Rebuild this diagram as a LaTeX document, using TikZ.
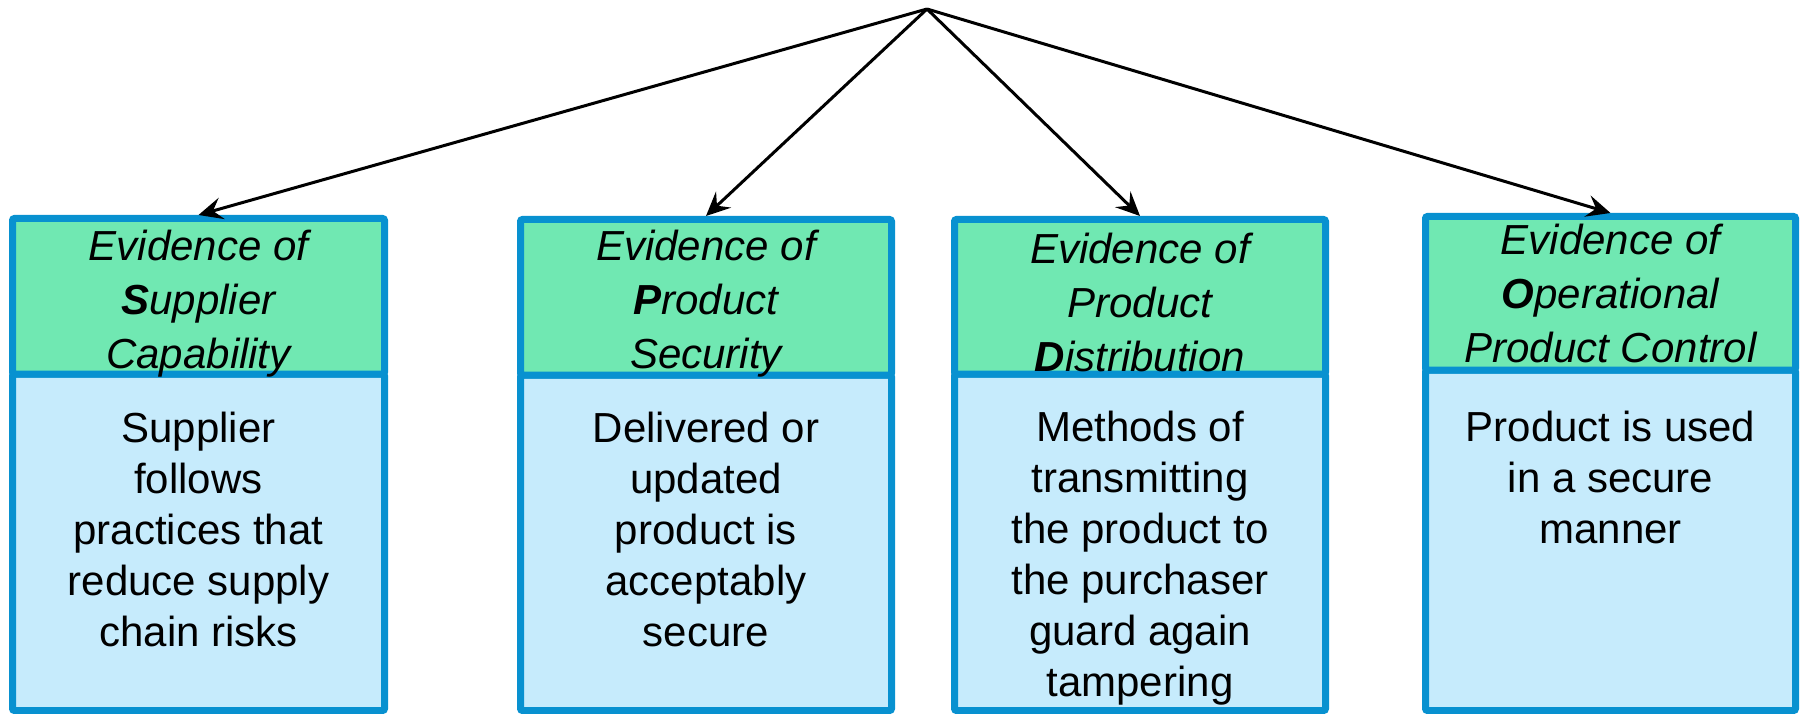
\documentclass[tikz,border=0pt]{standalone}
\usepackage{fontspec}
\setmainfont{Liberation Sans}
\usetikzlibrary{arrows.meta}
\definecolor{boxblue}{RGB}{8,145,208}
\definecolor{hdrgreen}{RGB}{112,232,178}
\definecolor{bodyblue}{RGB}{198,235,252}
\begin{document}
\begin{tikzpicture}[x=1pt,y=-1pt,
  hdrbox/.style={draw=boxblue, fill=hdrgreen, line width=7pt, rounded corners=2pt, inner sep=0pt},
  bodybox/.style={draw=boxblue, fill=bodyblue, line width=7pt, rounded corners=2pt, inner sep=0pt},
  hdrtext/.style={anchor=base, inner sep=0pt, align=center, font=\fontsize{42}{54}\selectfont\itshape},
  bodytext/.style={anchor=base, inner sep=0pt, align=center, font=\fontsize{42}{51}\selectfont},
  arr/.style={line width=3pt, -{Stealth[length=24pt,width=22pt,inset=9pt]}}]
\useasboundingbox (0,0) rectangle (1800,714);

% box 1
\node[bodybox, minimum width=372pt, minimum height=336.5pt] (b1) at (198.5,542.25) {};
\node[hdrbox, minimum width=372pt, minimum height=155.5pt] (h1) at (198.5,296.25) {};
% box 2
\node[bodybox, minimum width=371pt, minimum height=335.5pt] (b2) at (706,542.75) {};
\node[hdrbox, minimum width=371pt, minimum height=155.5pt] (h2) at (706,297.25) {};
% box 3
\node[bodybox, minimum width=371pt, minimum height=336.5pt] (b3) at (1140,542.25) {};
\node[hdrbox, minimum width=371pt, minimum height=154.5pt] (h3) at (1140,296.75) {};
% box 4
\node[bodybox, minimum width=370pt, minimum height=340.5pt] (b4) at (1610.5,540.25) {};
\node[hdrbox, minimum width=370pt, minimum height=153.5pt] (h4) at (1610.5,293.25) {};

% header texts (anchor = baseline of last line)
\node[hdrtext] (t1) at (198.5,368) {Evidence of\\\textbf{S}upplier\\Capability};
\node[hdrtext] (t2) at (706,368) {Evidence of\\\textbf{P}roduct\\Security};
\node[hdrtext] (t3) at (1140,371) {Evidence of\\Product\\\textbf{D}istribution};
\node[hdrtext] (t4) at (1610.5,362) {Evidence of\\\textbf{O}perational\\Product Control};

% body texts (anchor = baseline of last line)
\node[bodytext] (s1) at (198.5,646) {Supplier\\follows\\practices that\\reduce supply\\chain risks};
\node[bodytext] (s2) at (706,646) {Delivered or\\updated\\product is\\acceptably\\secure};
\node[bodytext] (s3) at (1140,696) {Methods of\\transmitting\\the product to\\the purchaser\\guard again\\tampering};
\node[bodytext] (s4) at (1610.5,543) {Product is used\\in a secure\\manner};

% arrows
\coordinate (apex) at (927,9);
\draw[arr] (apex) -- (h1.north);
\draw[arr] (apex) -- (h2.north);
\draw[arr] (apex) -- (h3.north);
\draw[arr] (apex) -- (h4.north);
\end{tikzpicture}
\end{document}
